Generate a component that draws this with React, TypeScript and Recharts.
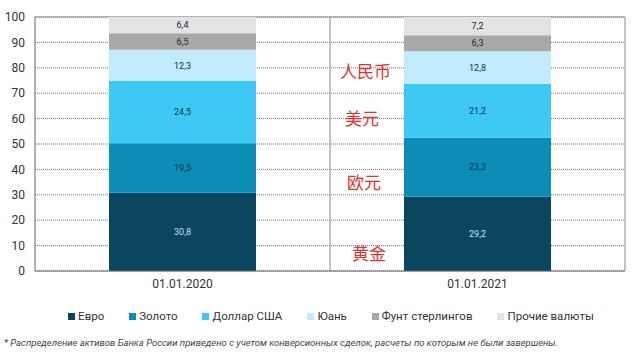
import React from "react";
import {
  BarChart,
  Bar,
  XAxis,
  YAxis,
  CartesianGrid,
  LabelList,
} from "recharts";

// categories and values
const dates = ["01.01.2020", "01.01.2021"];
const euro = [30.8, 29.2];
const gold = [19.5, 23.3];
const usd = [24.5, 21.2];
const yuan = [12.3, 12.8];
const gbp = [6.5, 6.3];
const other = [6.4, 7.2];
const yTicks = [0, 10, 20, 30, 40, 50, 60, 70, 80, 90, 100];

const series = [
  { key: "euro", name: "Евро", color: "#0b4661", label: "#bfe3f2" },
  { key: "gold", name: "Золото", color: "#0b8db6", label: "#0d3550" },
  { key: "usd", name: "Доллар США", color: "#3ec8f4", label: "#0d3550" },
  { key: "yuan", name: "Юань", color: "#c2ebfb", label: "#0d3550" },
  { key: "gbp", name: "Фунт стерлингов", color: "#a9a7a7", label: "#1d2a33" },
  { key: "other", name: "Прочие валюты", color: "#e3e3e3", label: "#1d2a33" },
];

const data = dates.map((d, i) => ({
  date: d,
  euro: euro[i],
  gold: gold[i],
  usd: usd[i],
  yuan: yuan[i],
  gbp: gbp[i],
  other: other[i],
}));

const notes = [
  { text: "人民币", left: 340, top: 61 },
  { text: "美元", left: 345, top: 108 },
  { text: "欧元", left: 347, top: 172 },
  { text: "黄金", left: 352, top: 243 },
];

const FONT = '"Liberation Sans Narrow", "Roboto", sans-serif';

const fmt = (v: any) => String(v).replace(".", ",");

export default function App() {
  return (
    <div
      style={{
        position: "absolute",
        left: 0,
        top: 0,
        width: 640,
        height: 361,
        background: "#fff",
        fontFamily: FONT,
      }}
    >
      <BarChart
        width={640}
        height={300}
        data={data}
        margin={{ top: 17, right: 15, bottom: 0, left: 0 }}
        barSize={147}
      >
        <CartesianGrid
          vertical={false}
          stroke="#777"
          strokeDasharray="1 1"
        />
        <CartesianGrid
          stroke="#888"
          horizontalCoordinatesGenerator={({ offset }: any) => [offset.top]}
          verticalCoordinatesGenerator={({ offset }: any) => [
            offset.left + offset.width / 2,
            offset.left + offset.width,
          ]}
        />
        <XAxis
          dataKey="date"
          tickLine={false}
          axisLine={{ stroke: "#666" }}
          height={29}
          tick={{ fill: "#333", fontSize: 12, fontFamily: FONT }}
        />
        <YAxis
          domain={[0, 100]}
          ticks={yTicks}
          width={35}
          tickLine={false}
          tickMargin={4}
          axisLine={{ stroke: "#666" }}
          tick={{ fill: "#333", fontSize: 12, fontFamily: FONT }}
        />
        {series.map((s) => (
          <Bar
            key={s.key}
            dataKey={s.key}
            name={s.name}
            stackId="a"
            fill={s.color}
            isAnimationActive={false}
          >
            <LabelList
              dataKey={s.key}
              position="center"
              formatter={fmt}
              fill={s.label}
              fontSize={9}
              fontFamily={FONT}
            />
          </Bar>
        ))}
      </BarChart>

      {notes.map((n) => (
        <div
          key={n.text}
          style={{
            position: "absolute",
            left: n.left,
            top: n.top,
            color: "#e0322f",
            fontSize: 17,
            lineHeight: "20px",
            fontFamily: '"Noto Sans CJK SC", sans-serif',
          }}
        >
          {n.text}
        </div>
      ))}

      <div
        style={{
          position: "absolute",
          left: 0,
          top: 309,
          width: 662,
          display: "flex",
          justifyContent: "center",
          gap: 25,
          fontSize: 11.5,
          color: "#333",
        }}
      >
        {series.map((s) => (
          <div key={s.key} style={{ display: "flex", alignItems: "center" }}>
            <span
              style={{
                display: "inline-block",
                width: 7,
                height: 7,
                background: s.color,
                marginRight: 3,
              }}
            />
            {s.name}
          </div>
        ))}
      </div>

      <div
        style={{
          position: "absolute",
          left: 4,
          top: 337,
          fontSize: 9.5,
          fontStyle: "italic",
          color: "#444",
        }}
      >
        * Распределение активов Банка России приведено с учетом конверсионных
        сделок, расчеты по которым не были завершены.
      </div>
    </div>
  );
}
